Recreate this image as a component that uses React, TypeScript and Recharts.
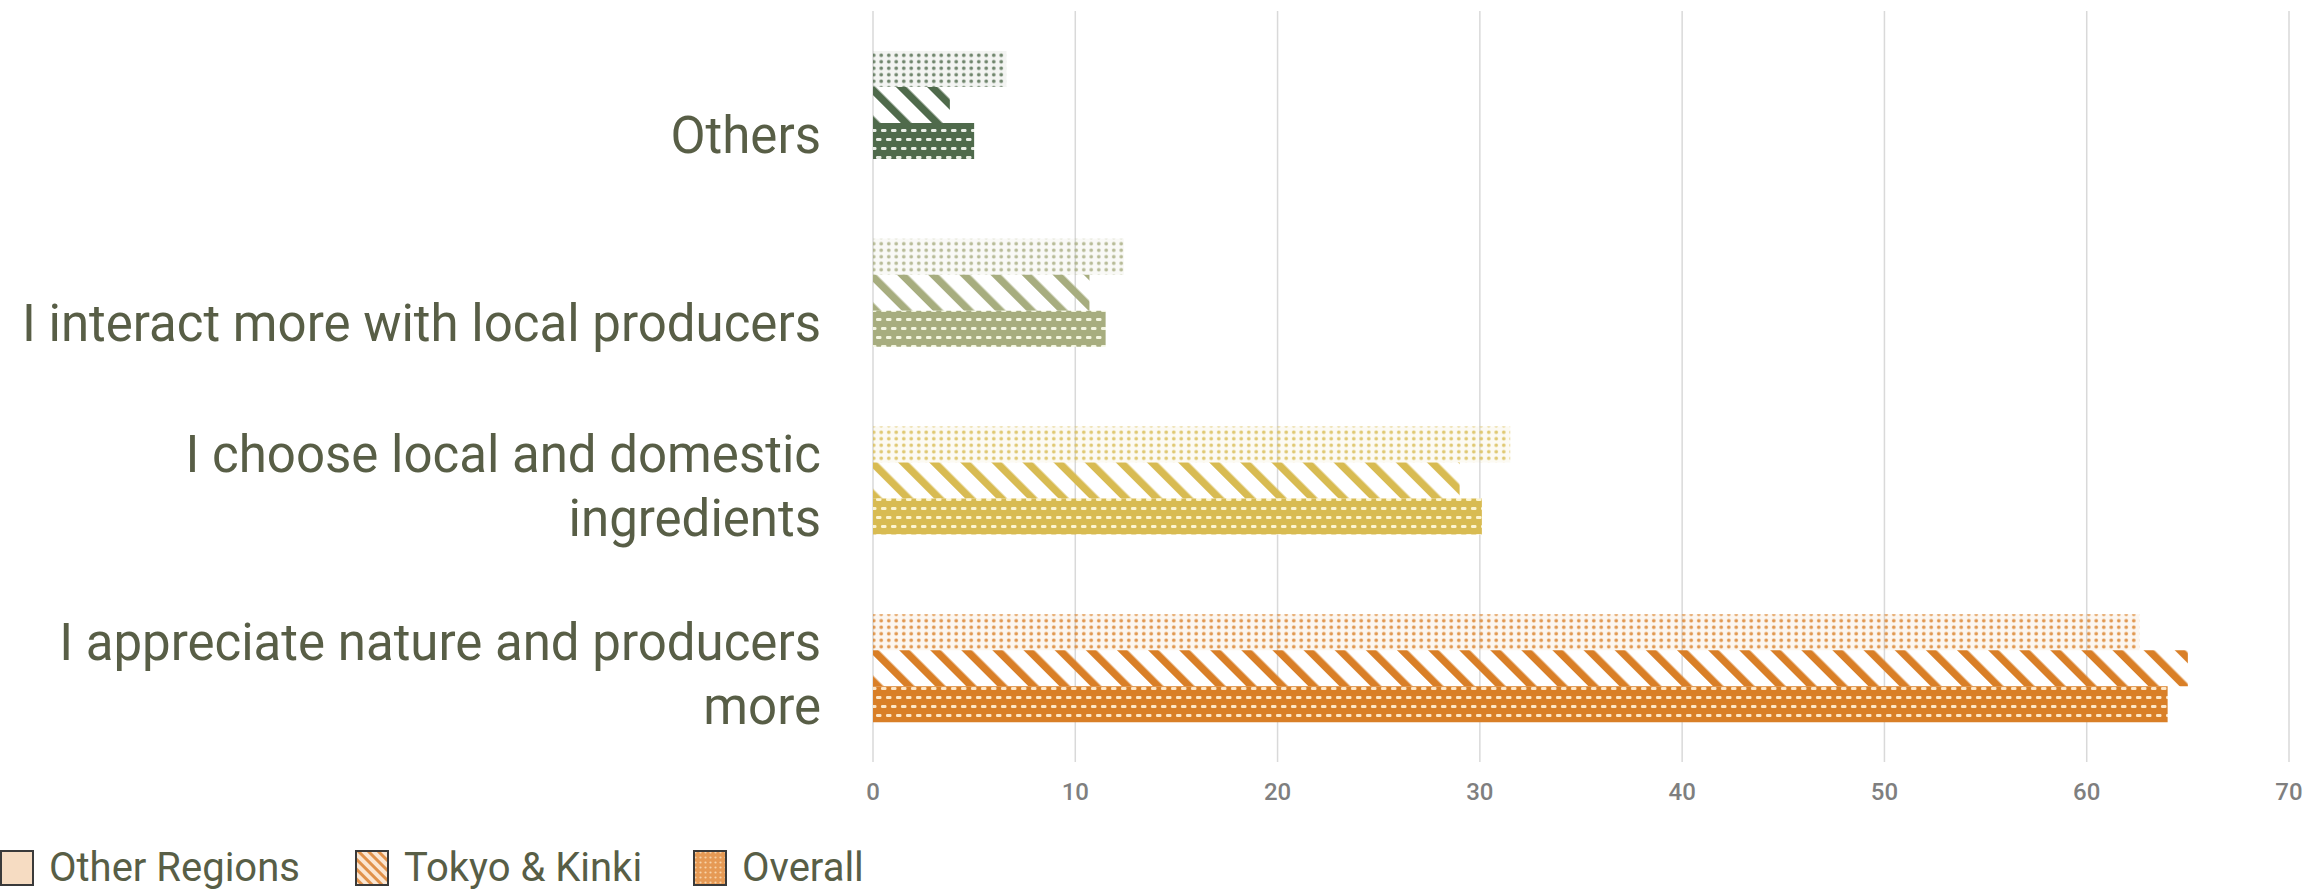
import { Bar, BarChart, CartesianGrid, Cell, XAxis, YAxis } from "recharts";

const CATEGORIES = [
  "Others",
  "I interact more with local producers",
  "I choose local and domestic\ningredients",
  "I appreciate nature and producers\nmore",
];
const OTHER_REGIONS = [6.6, 12.4, 31.5, 62.6];
const TOKYO_KINKI = [3.8, 10.7, 29.0, 65.0];
const OVERALL = [5.0, 11.5, 30.1, 64.0];
const X_TICKS = [0, 10, 20, 30, 40, 50, 60, 70];

const SERIES = [
  { key: "otherRegions", name: "Other Regions", pattern: "dots" },
  { key: "tokyoKinki", name: "Tokyo & Kinki", pattern: "hatch" },
  { key: "overall", name: "Overall", pattern: "brick" },
];

// one colour per category, as in the original
const COLORS = ["#4f6a4b", "#a7ad7f", "#d8bb52", "#d97f27"];
const LIGHTS = ["#e9eee6", "#f3f5e0", "#fcf4cf", "#fde6c6"];

const TEXT = "#585e46";
const FONT = "Roboto, sans-serif";

const data = CATEGORIES.map((label, i) => ({
  label,
  otherRegions: OTHER_REGIONS[i],
  tokyoKinki: TOKYO_KINKI[i],
  overall: OVERALL[i],
}));

function Patterns() {
  return (
    <svg width={0} height={0} style={{ position: "absolute" }}>
      <defs>
        {COLORS.map((c, i) => (
          <g key={c}>
            <pattern id={`dots-${i}`} patternUnits="userSpaceOnUse" width={7.5} height={6.5}>
              <rect width={7.5} height={6.5} fill={c} fillOpacity={0.07} />
              <circle cx={3.75} cy={3.25} r={1.8} fill={c} fillOpacity={0.8} />
            </pattern>
            <pattern
              id={`hatch-${i}`}
              patternUnits="userSpaceOnUse"
              width={22}
              height={22}
              patternTransform="rotate(-45)"
            >
              <rect x={0} y={0} width={7.5} height={22} fill={c} />
            </pattern>
            <pattern id={`brick-${i}`} patternUnits="userSpaceOnUse" width={10} height={18}>
              <rect width={10} height={18} fill={c} />
              <rect x={1} y={3} width={5.5} height={3} rx={1.2} fill={LIGHTS[i]} />
              <rect x={6} y={12} width={5.5} height={3} rx={1.2} fill={LIGHTS[i]} />
              <rect x={-4} y={12} width={5.5} height={3} rx={1.2} fill={LIGHTS[i]} />
            </pattern>
          </g>
        ))}
        <pattern
          id="legend-hatch"
          patternUnits="userSpaceOnUse"
          width={7}
          height={7}
          patternTransform="rotate(-45)"
        >
          <rect width={7} height={7} fill="#fbe6d2" />
          <rect width={3} height={7} fill="#e0914a" />
        </pattern>
        <pattern id="legend-dots" patternUnits="userSpaceOnUse" width={5} height={5}>
          <rect width={5} height={5} fill="#e69a55" />
          <circle cx={2.5} cy={2.5} r={1.1} fill="#f8d3a8" />
        </pattern>
      </defs>
    </svg>
  );
}

function CategoryTick({ x, y, payload }: any) {
  const lines = String(payload.value).split("\n");
  const first = 48 - (lines.length - 1) * 56;
  return (
    <text x={x} y={y} textAnchor="end" fill={TEXT} fontSize={51} fontFamily={FONT}>
      {lines.map((line, i) => (
        <tspan key={i} x={x} y={y + first + i * 64}>
          {line}
        </tspan>
      ))}
    </text>
  );
}

const LEGEND_FILLS = ["#f6dcc2", "url(#legend-hatch)", "url(#legend-dots)"];
const LEGEND_LEFT = [0, 355, 693];

function ChartLegend() {
  return (
    <div style={{ position: "absolute", left: 0, top: 850, fontFamily: FONT, fontSize: 40, color: TEXT }}>
      {SERIES.map((s, i) => (
        <div
          key={s.key}
          style={{
            position: "absolute",
            left: LEGEND_LEFT[i],
            top: 0,
            display: "flex",
            alignItems: "center",
            gap: 15,
            whiteSpace: "nowrap",
          }}
        >
          <svg width={34} height={36}>
            <rect x={1} y={1} width={32} height={34} fill={LEGEND_FILLS[i]} stroke="#3a3a3a" strokeWidth={2} />
          </svg>
          <span style={{ lineHeight: "36px" }}>{s.name}</span>
        </div>
      ))}
    </div>
  );
}

export default function App() {
  return (
    <div
      style={{
        position: "absolute",
        left: 0,
        top: 0,
        width: 2308,
        height: 893,
        background: "#ffffff",
        overflow: "hidden",
      }}
    >
      <Patterns />
      <BarChart
        width={2308}
        height={893}
        layout="vertical"
        data={data}
        margin={{ top: 11, right: 19, bottom: 91, left: 0 }}
        barGap={0}
        barSize={36}
      >
        <CartesianGrid horizontal={false} stroke="#d9d9d9" strokeWidth={1.5} />
        <XAxis
          type="number"
          domain={[0, 70]}
          ticks={X_TICKS}
          interval={0}
          height={40}
          axisLine={false}
          tickLine={false}
          tickSize={0}
          tickMargin={21}
          tick={{ fill: "#7f7f7f", fontSize: 24, fontFamily: FONT, fontWeight: 500 }}
        />
        <YAxis
          type="category"
          dataKey="label"
          width={873}
          axisLine={false}
          tickLine={false}
          tickSize={0}
          tickMargin={52}
          interval={0}
          tick={<CategoryTick />}
        />
        {SERIES.map((s) => (
          <Bar key={s.key} dataKey={s.key} name={s.name} isAnimationActive={false}>
            {data.map((_, i) => (
              <Cell key={i} fill={`url(#${s.pattern}-${i})`} />
            ))}
          </Bar>
        ))}
      </BarChart>
      <ChartLegend />
    </div>
  );
}
